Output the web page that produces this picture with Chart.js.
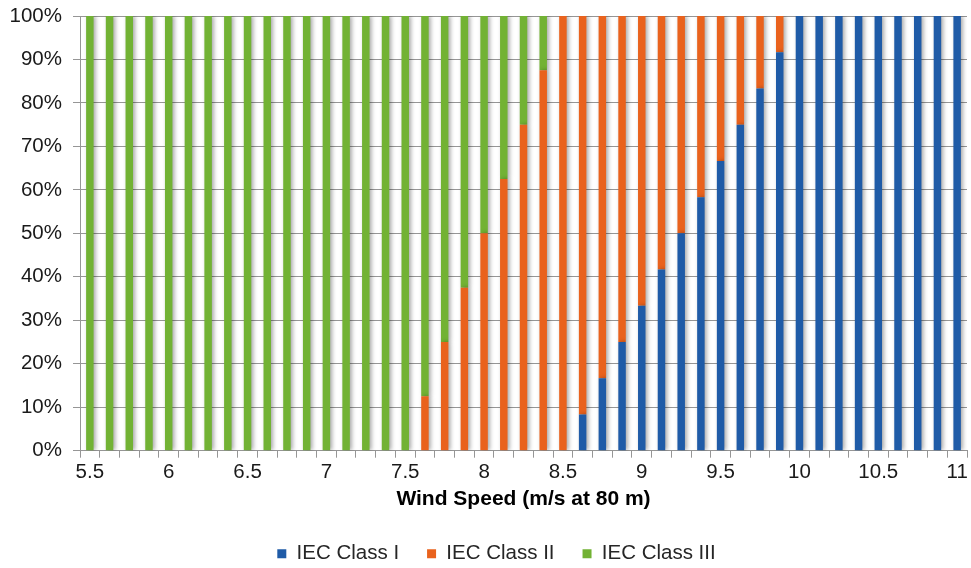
<!DOCTYPE html>
<html><head><meta charset="utf-8">
<script src="https://cdn.jsdelivr.net/npm/chart.js@4/dist/chart.umd.min.js"></script>
<style>html,body{margin:0;padding:0;background:#fff}#wrap{width:971px;height:568px}</style>
</head><body><div id="wrap"><canvas id="c" width="971" height="568"></canvas></div>
<script>
const windSpeeds = [5.5, 5.625, 5.75, 5.875, 6, 6.125, 6.25, 6.375, 6.5, 6.625, 6.75, 6.875,
  7, 7.125, 7.25, 7.375, 7.5, 7.625, 7.75, 7.875, 8, 8.125, 8.25, 8.375, 8.5, 8.625, 8.75, 8.875,
  9, 9.125, 9.25, 9.375, 9.5, 9.625, 9.75, 9.875, 10, 10.125, 10.25, 10.375, 10.5, 10.625, 10.75, 10.875, 11];
const tickLabels = ['5.5', '6', '6.5', '7', '7.5', '8', '8.5', '9', '9.5', '10', '10.5', '11'];
const yTicks = [0, 10, 20, 30, 40, 50, 60, 70, 80, 90, 100];
const classI = [0, 0, 0, 0, 0, 0, 0, 0, 0, 0, 0, 0,
  0, 0, 0, 0, 0, 0, 0, 0, 0, 0, 0, 0, 0, 8.33, 16.67, 25,
  33.33, 41.67, 50, 58.33, 66.67, 75, 83.33, 91.67, 100, 100, 100, 100, 100, 100, 100, 100, 100];
const classII = [0, 0, 0, 0, 0, 0, 0, 0, 0, 0, 0, 0,
  0, 0, 0, 0, 0, 12.5, 25, 37.5, 50, 62.5, 75, 87.5, 100, 91.67, 83.33, 75,
  66.67, 58.33, 50, 41.67, 33.33, 25, 16.67, 8.33, 0, 0, 0, 0, 0, 0, 0, 0, 0];
const classIII = [100, 100, 100, 100, 100, 100, 100, 100, 100, 100, 100, 100,
  100, 100, 100, 100, 100, 87.5, 75, 62.5, 50, 37.5, 25, 12.5, 0, 0, 0, 0,
  0, 0, 0, 0, 0, 0, 0, 0, 0, 0, 0, 0, 0, 0, 0, 0, 0];
const seriesNames = ['IEC Class I', 'IEC Class II', 'IEC Class III'];
const seriesColors = ['#1F5BA7', '#E9621D', '#72B234'];

const shadowPlugin = {
  id: 'barShadow',
  beforeDatasetsDraw(chart) {
    const c = chart.ctx; c.save();
    c.shadowColor = 'rgba(0,0,0,0.35)'; c.shadowBlur = 4; c.shadowOffsetX = 2; c.shadowOffsetY = 0;
  },
  afterDatasetsDraw(chart) { chart.ctx.restore(); }
};
const legendShift = {
  id: 'legendShift',
  afterLayout(chart) { if (chart.legend) { chart.legend.left += 13; chart.legend.right += 13; } }
};

const gridColor = '#969696';
const fontFam = '"Liberation Sans", Arial, sans-serif';

new Chart(document.getElementById('c'), {
  type: 'bar',
  data: {
    labels: windSpeeds.map(String),
    datasets: [classI, classII, classIII].map((d, i) => ({
      label: seriesNames[i], data: d, backgroundColor: seriesColors[i],
      borderWidth: 0, barPercentage: 0.38, categoryPercentage: 1.0
    }))
  },
  options: {
    responsive: false, animation: false, devicePixelRatio: 1,
    layout: { padding: { top: 16, right: 4, left: 0, bottom: -6 } },
    plugins: {
      tooltip: { enabled: false },
      legend: {
        position: 'bottom',
        labels: { boxWidth: 9, boxHeight: 9, padding: 28, color: '#262626',
          font: { family: fontFam, size: 20.5 } }
      }
    },
    scales: {
      x: {
        stacked: true,
        grid: { display: true, drawOnChartArea: false, drawTicks: true, tickLength: 7, color: gridColor, offset: true },
        border: { display: true, color: gridColor },
        ticks: {
          autoSkip: false, maxRotation: 0, minRotation: 0, padding: 2, color: '#1a1a1a',
          font: { family: fontFam, size: 20.5 },
          callback: function (v, i) { const s = String(windSpeeds[i]); return tickLabels.includes(s) ? s : ''; }
        },
        title: { display: true, text: 'Wind Speed (m/s at 80 m)', color: '#000',
          font: { family: fontFam, size: 21, weight: 'bold' }, padding: { top: 0, bottom: 4 } }
      },
      y: {
        stacked: true, min: 0, max: 100,
        afterFit: function (s) { s.width = 80; s.paddingTop = 0; s.paddingBottom = 0; },
        afterBuildTicks: function (s) { s.ticks = yTicks.map(v => ({ value: v })); },
        grid: { color: gridColor, tickLength: 7, drawTicks: true },
        border: { display: true, color: gridColor },
        ticks: { padding: 11, color: '#1a1a1a', font: { family: fontFam, size: 20.5 },
          callback: v => v + '%' }
      }
    }
  },
  plugins: [shadowPlugin, legendShift]
});
</script></body></html>
